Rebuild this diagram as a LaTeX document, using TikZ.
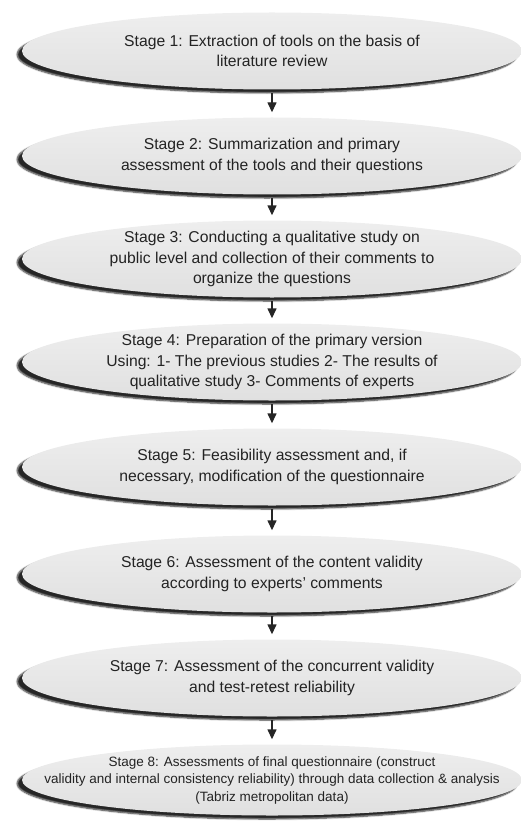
\documentclass[tikz,border=0pt]{standalone}
\usepackage{fontspec}
\setmainfont{Liberation Sans}
\usepackage{xcolor}
\usetikzlibrary{shapes.geometric, arrows.meta, positioning, shadows, shadows.blur}
\definecolor{stagefill}{RGB}{224,224,224}
\definecolor{stagetop}{RGB}{238,238,238}
\definecolor{textcolor}{RGB}{35,35,35}

\tikzset{
    stagebox/.style={ellipse, minimum width=500pt, minimum height=77pt, inner sep=0pt,
        top color=stagetop, bottom color=stagefill, draw=none,
        blur shadow={shadow xshift=-5pt, shadow yshift=-3.5pt, shadow blur radius=1.5pt,
            shadow blur steps=6, shadow opacity=85}},
    stagetext/.style={align=center, text=textcolor, font=\fontsize{15.7}{20.5}\selectfont},
    flowarrow/.style={-{Triangle[length=10pt, width=9pt]}, line width=1.4pt, black!85,
        shorten <=3.5pt, shorten >=5pt}
}

\begin{document}
\begin{tikzpicture}[x=1pt, y=1pt]
    \useasboundingbox (0,0) rectangle (521,-821);

    % Stage 1
    \node[stagebox] (e1) at (272,-51) {};
    \node[stagetext] (t1) at (e1) {Stage 1: Extraction of tools on the basis of\\literature review};

    % Stage 2
    \node[stagebox] (e2) at (272,-156) {};
    \node[stagetext] (t2) at (e2) {Stage 2: Summarization and primary\\assessment of the tools and their questions};

    % Stage 3
    \node[stagebox] (e3) at (272,-259) {};
    \node[stagetext] (t3) at (e3) {Stage 3: Conducting a qualitative study on\\public level and collection of their comments to\\organize the questions};

    % Stage 4
    \node[stagebox] (e4) at (272,-362) {};
    \node[stagetext] (t4) at (e4) {Stage 4: Preparation of the primary version\\Using: 1- The previous studies 2- The results of\\qualitative study 3- Comments of experts};

    % Stage 5
    \node[stagebox] (e5) at (272,-467) {};
    \node[stagetext] (t5) at (e5) {Stage 5: Feasibility assessment and, if\\necessary, modification of the questionnaire};

    % Stage 6
    \node[stagebox] (e6) at (272,-574) {};
    \node[stagetext] (t6) at (e6) {Stage 6: Assessment of the content validity\\according to experts’ comments};

    % Stage 7
    \node[stagebox] (e7) at (272,-678) {};
    \node[stagetext] (t7) at (e7) {Stage 7: Assessment of the concurrent validity\\and test-retest reliability};

    % Stage 8 - smaller text
    \node[stagebox, minimum height=71pt] (e8) at (272,-780) {};
    \node[stagetext, font=\fontsize{13.5}{17.5}\selectfont] (t8) at (e8) {Stage 8: Assessments of final questionnaire (construct\\validity and internal consistency reliability) through data collection \& analysis\\(Tabriz metropolitan data)};

    % Arrows
    \draw[flowarrow] (e1.south) -- (e2.north);
    \draw[flowarrow] (e2.south) -- (e3.north);
    \draw[flowarrow] (e3.south) -- (e4.north);
    \draw[flowarrow] (e4.south) -- (e5.north);
    \draw[flowarrow] (e5.south) -- (e6.north);
    \draw[flowarrow] (e6.south) -- (e7.north);
    \draw[flowarrow] (e7.south) -- (e8.north);

\end{tikzpicture}
\end{document}
